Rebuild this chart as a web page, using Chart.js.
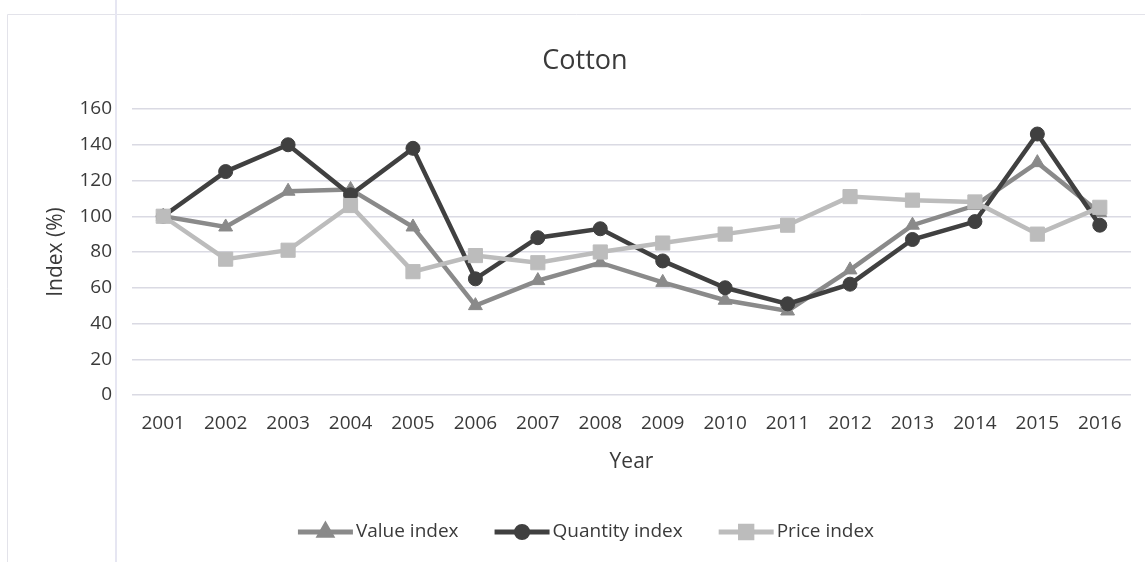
<!DOCTYPE html>
<html>
<head>
<meta charset="utf-8">
<title>Cotton</title>
<script src="https://cdn.jsdelivr.net/npm/chart.js@4/dist/chart.umd.min.js"></script>
<style>
  html, body { margin: 0; padding: 0; background: #fff; }
  #wrap { width: 1145px; height: 562px; position: relative; }
</style>
</head>
<body>
<div id="wrap"><canvas id="cotton"></canvas></div>
<script>
const years = ["2001", "2002", "2003", "2004", "2005", "2006", "2007", "2008",
  "2009", "2010", "2011", "2012", "2013", "2014", "2015", "2016"];
const valueIndex = [100, 94, 114, 115, 94, 50, 64, 74, 63, 53, 47, 70, 95, 106, 130, 102];
const quantityIndex = [100, 125, 140, 112, 138, 65, 88, 93, 75, 60, 51, 62, 87, 97, 146, 95];
const priceIndex = [100, 76, 81, 106, 69, 78, 74, 80, 85, 90, 95, 111, 109, 108, 90, 105];
const yTicks = [0, 20, 40, 60, 80, 100, 120, 140, 160];

const FONT = "'Open Sans', 'DejaVu Sans', sans-serif";
const TEXT = "#3a3a3a";

const series = [
  { label: "Value index", data: valueIndex, color: "#8a8a8a", style: "triangle", radius: 8, order: 2 },
  { label: "Quantity index", data: quantityIndex, color: "#404040", style: "circle", radius: 7, order: 1 },
  { label: "Price index", data: priceIndex, color: "#bcbcbc", style: "rect", radius: 10, order: 0 },
];

// page frame, chart title and the line-and-marker legend
const decor = {
  id: "decor",
  beforeDraw(chart) {
    const ctx = chart.ctx;
    ctx.save();
    ctx.fillStyle = "#fff";
    ctx.fillRect(0, 0, chart.width, chart.height);
    ctx.strokeStyle = "#e3e3ea";
    ctx.lineWidth = 1;
    ctx.beginPath();
    ctx.moveTo(7.5, chart.height);
    ctx.lineTo(7.5, 14.5);
    ctx.lineTo(chart.width, 14.5);
    ctx.stroke();
    ctx.strokeStyle = "#e6e6f2";
    ctx.lineWidth = 2;
    ctx.beginPath();
    ctx.moveTo(116, 0);
    ctx.lineTo(116, chart.height);
    ctx.stroke();
    ctx.restore();
  },
  afterDraw(chart) {
    const ctx = chart.ctx;
    ctx.save();
    ctx.fillStyle = TEXT;
    ctx.textBaseline = "middle";
    ctx.textAlign = "center";
    ctx.font = "27px " + FONT;
    ctx.fillText("Cotton", 585, 61);

    ctx.font = "19px " + FONT;
    ctx.textAlign = "left";
    const lineLen = 55, gap = 3, spacing = 36, y = 532;
    const widths = series.map(s => lineLen + gap + ctx.measureText(s.label).width);
    const total = widths.reduce((a, b) => a + b, 0) + spacing * (series.length - 1);
    let x = 586 - total / 2;
    series.forEach((s, i) => {
      ctx.strokeStyle = s.color;
      ctx.fillStyle = s.color;
      ctx.lineWidth = 5;
      ctx.beginPath();
      ctx.moveTo(x, y);
      ctx.lineTo(x + lineLen, y);
      ctx.stroke();
      Chart.helpers.drawPoint(ctx, {
        pointStyle: s.style, radius: s.radius * 0.8, borderWidth: 1, rotation: 0
      }, x + lineLen / 2, y);
      ctx.fillStyle = TEXT;
      ctx.fillText(s.label, x + lineLen + gap, y);
      x += widths[i] + spacing;
    });
    ctx.restore();
  }
};

new Chart(document.getElementById("cotton").getContext("2d"), {
  type: "line",
  data: {
    labels: years,
    datasets: series.map(s => ({
      label: s.label,
      data: s.data,
      order: s.order,
      borderColor: s.color,
      backgroundColor: s.color,
      borderWidth: 4.5,
      pointStyle: s.style,
      pointRadius: s.radius,
      pointHoverRadius: s.radius,
      pointBackgroundColor: s.color,
      pointBorderColor: s.color,
      pointBorderWidth: 1,
      tension: 0,
      fill: false,
    })),
  },
  options: {
    responsive: true,
    maintainAspectRatio: false,
    animation: false,
    layout: { padding: { top: 109, right: 14, bottom: 82, left: 0 } },
    plugins: {
      legend: { display: false },
      title: { display: false },
      tooltip: { enabled: false },
    },
    scales: {
      x: {
        type: "category",
        offset: true,
        grid: { display: false, drawTicks: false },
        border: { display: false },
        ticks: { color: TEXT, font: { family: FONT, size: 19 }, padding: 17, maxRotation: 0 },
        title: { display: true, text: "Year", color: TEXT, font: { family: FONT, size: 21 }, padding: { top: 0, bottom: 5 } },
        afterFit(scale) { scale.height = 85; },
      },
      y: {
        min: 0,
        max: 160,
        afterBuildTicks(scale) { scale.ticks = yTicks.map(v => ({ value: v })); },
        grid: { color: "#dadae3", lineWidth: 1.5, drawTicks: false },
        border: { display: false },
        ticks: { color: TEXT, font: { family: FONT, size: 19 }, padding: 20 },
        title: { display: true, text: "Index (%)", color: TEXT, font: { family: FONT, size: 21 }, padding: { top: 43, bottom: 0 } },
        afterFit(scale) { scale.width = 132; },
      },
    },
  },
  plugins: [decor],
});
</script>
</body>
</html>
